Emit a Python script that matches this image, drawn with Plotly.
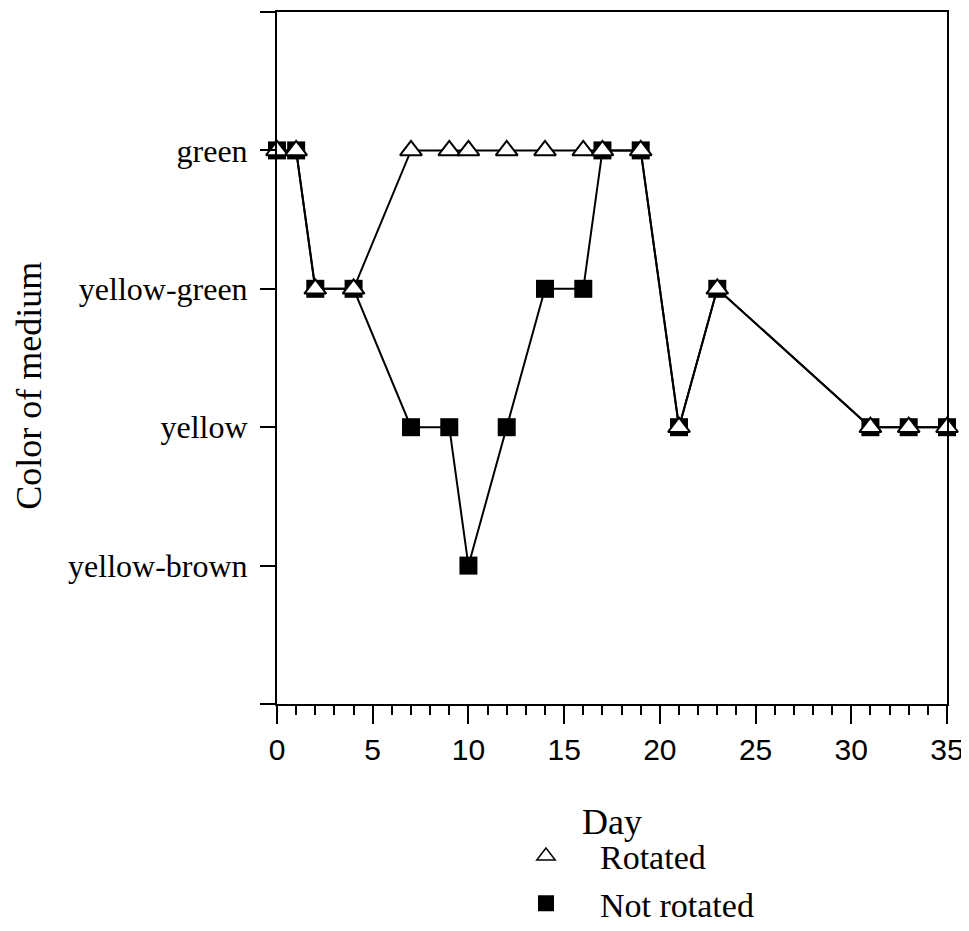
import plotly.graph_objects as go

days = [0, 1, 2, 4, 7, 9, 10, 12, 14, 16, 17, 19, 21, 23, 31, 33, 35]
# color levels: 1 = yellow-brown, 2 = yellow, 3 = yellow-green, 4 = green
rotated = [4, 4, 3, 3, 4, 4, 4, 4, 4, 4, 4, 4, 2, 3, 2, 2, 2]
not_rotated = [4, 4, 3, 3, 2, 2, 1, 2, 3, 3, 4, 4, 2, 3, 2, 2, 2]
level_values = [0, 1, 2, 3, 4, 5]
level_labels = ["", "yellow-brown", "yellow", "yellow-green", "green", ""]
x_tick_values = [0, 5, 10, 15, 20, 25, 30, 35]

serif = "Liberation Serif, Times New Roman, serif"
sans = "Liberation Sans, Arial, sans-serif"
pad = "\u00a0\u00a0\u00a0\u00a0"

fig = go.Figure()
fig.add_trace(go.Scatter(
    x=days, y=not_rotated, mode="lines+markers", name="Not rotated",
    line=dict(color="black", width=2),
    marker=dict(symbol="square", size=18, color="black"),
    cliponaxis=False, showlegend=False))
fig.add_trace(go.Scatter(
    x=days, y=rotated, mode="lines+markers", name="Rotated",
    line=dict(color="black", width=2),
    marker=dict(symbol="triangle-up", size=19, color="white",
                line=dict(color="black", width=2)),
    cliponaxis=False, showlegend=False))
# legend-only entries
fig.add_trace(go.Scatter(
    x=[None], y=[None], mode="markers", name=pad + "Rotated",
    marker=dict(symbol="triangle-up-open", size=18, color="black",
                line=dict(color="black", width=1.5))))
fig.add_trace(go.Scatter(
    x=[None], y=[None], mode="markers", name=pad + "Not rotated",
    marker=dict(symbol="square", size=16, color="black")))

fig.update_layout(
    width=961, height=915,
    margin=dict(l=269, r=22, t=4, b=219, autoexpand=False),
    paper_bgcolor="white", plot_bgcolor="white",
    font=dict(family=serif, color="black"),
    legend=dict(xref="container", yref="container",
                x=0.539, y=0.047, xanchor="left", yanchor="middle",
                font=dict(family=serif, size=34, color="black"),
                bgcolor="rgba(0,0,0,0)"),
    annotations=[dict(
        text="Color of medium", textangle=-90, showarrow=False,
        xref="paper", yref="paper", x=-0.37, y=0.46,
        xanchor="center", yanchor="middle",
        font=dict(family=serif, size=36, color="black"))],
)
fig.update_xaxes(
    range=[0, 35], tickmode="array", tickvals=x_tick_values,
    ticks="outside", ticklen=18, tickwidth=2, tickcolor="black",
    tickfont=dict(family=sans, size=30, color="black"),
    ticklabeloverflow="allow",
    showline=True, linecolor="black", linewidth=2, mirror=True,
    showgrid=False, zeroline=False, automargin=False,
    minor=dict(dtick=1, ticks="outside", ticklen=9, tickwidth=1.5, tickcolor="black", showgrid=False),
    title=dict(text="Day", font=dict(family=serif, size=36, color="black"), standoff=44),
)
fig.update_yaxes(
    range=[0, 5], tickmode="array", tickvals=level_values, ticktext=level_labels,
    ticks="outside", ticklen=15, tickwidth=2, tickcolor="black",
    tickfont=dict(family=serif, size=32, color="black"),
    ticklabelstandoff=6,
    showline=True, linecolor="black", linewidth=2, mirror=True,
    showgrid=False, zeroline=False, automargin=False,
)

fig.write_html("out.html")
